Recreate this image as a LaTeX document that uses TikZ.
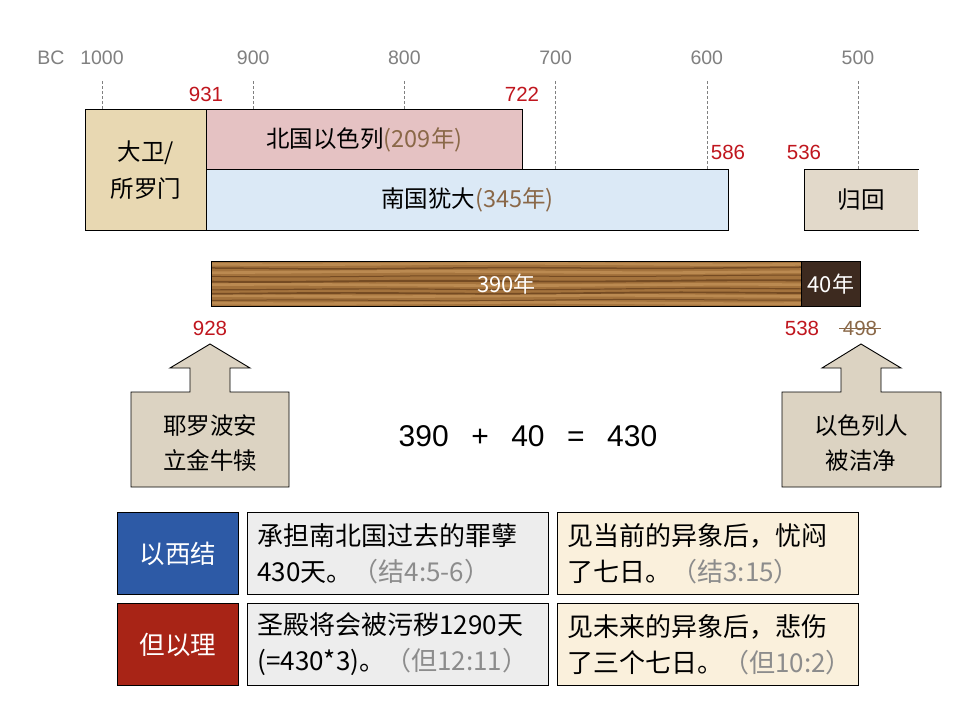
\documentclass[tikz,border=0pt]{standalone}
\usepackage{fontspec}
\setmainfont{Liberation Sans}
\newfontfamily\cjk{Noto Sans CJK SC}
\usepackage{tikz}
\definecolor{axisgray}{HTML}{808080}
\definecolor{yearred}{HTML}{C0161E}
\definecolor{yearbrown}{HTML}{8A6848}
\definecolor{davidtan}{HTML}{E8D8B2}
\definecolor{northpink}{HTML}{E5C2C3}
\definecolor{southblue}{HTML}{DBE9F6}
\definecolor{returnbeige}{HTML}{E2D9CA}
\definecolor{woodbrown}{HTML}{A4733D}
\definecolor{woodlight}{HTML}{C39358}
\definecolor{wooddark}{HTML}{5C3616}
\definecolor{exilebrown}{HTML}{3D2A1F}
\definecolor{linen}{HTML}{DCD3C2}
\definecolor{ezekblue}{HTML}{2D5AA6}
\definecolor{danred}{HTML}{A82416}
\definecolor{notegray}{HTML}{EDEDED}
\definecolor{notecream}{HTML}{FAF0DC}
\definecolor{refgray}{HTML}{8C8C8C}

\begin{document}
\begin{tikzpicture}[x=1pt, y=-1pt, font=\cjk,
        axislabel/.style={font=\rmfamily\fontsize{19.5}{19.5}\selectfont, text=axisgray},
        yearlabel/.style={font=\rmfamily\fontsize{20.5}{20.5}\selectfont, text=yearred},
        tick/.style={axisgray, line width=0.6pt, dash pattern=on 3pt off 2pt},
        bar/.style={draw=black, line width=0.9pt, inner sep=0pt, anchor=north west, align=center, font=\cjk\fontsize{23.5}{37}\selectfont},
        woodbar/.style={draw=black, line width=0.9pt, anchor=north west, minimum height=45, inner sep=0pt, text=white, font=\cjk\fontsize{22}{22}\selectfont},
        callout/.style={draw=black, line width=0.9pt, fill=linen},
        callouttext/.style={align=center, font=\cjk\fontsize{23.5}{35}\selectfont},
        namebox/.style={draw=black, line width=0.9pt, anchor=north west, minimum width=121, minimum height=82, inner sep=0pt, text=white, font=\cjk\fontsize{25.5}{25.5}\selectfont},
        note/.style={draw=black, line width=0.9pt, anchor=north west, text width=281pt, minimum height=82, inner xsep=10pt, inner ysep=0pt, align=left, font=\cjk\fontsize{26}{36}\selectfont}]
    \fill[white] (0,0) rectangle (960,720);
    \useasboundingbox (0,0) rectangle (960,720);

    \node[axislabel] (bc) at (51,58) {BC};
    \foreach \yr/\bot in {1000/109, 900/109, 800/109, 700/169, 600/169, 500/169} {
        \pgfmathsetmacro{\xx}{102+(1000-\yr)*1.512}
        \node[axislabel] (ax\yr) at (\xx,58) {\yr};
        \draw[tick] (\xx,81) -- (\xx,\bot);
    }
    \node[yearlabel] (y931) at (206,94)  {931};
    \node[yearlabel] (y722) at (522,94)  {722};
    \node[yearlabel] (y586) at (728,152) {586};
    \node[yearlabel] (y536) at (804,152) {536};

    \node[bar, fill=northpink, minimum width=316, minimum height=60] (north) at (206,109) {北国以色列{\color{yearbrown}(209年)}};
    \node[bar, fill=southblue, minimum width=522, minimum height=61] (south) at (206,169) {南国犹大{\color{yearbrown}(345年)}};
    \node[bar, fill=davidtan, minimum width=121, minimum height=121] (david) at (85,109) {大卫/\\所罗门};
    \node[bar, draw=none, fill=returnbeige, minimum width=114, minimum height=61] (return) at (804,169) {归回};
    \draw[line width=0.9pt] (return.north east) -- (return.north west) -- (return.south west) -- (return.south east);

    \fill[woodbrown] (211,261) rectangle (801,306);
    \begin{scope}
        \clip (211,261) rectangle (801,306);
        \foreach \yy in {264, 272, 285, 296, 303}
            \draw[woodlight, line width=2.6pt, opacity=.75] plot[domain=211:801, samples=50] (\x, {\yy+0.6*sin(0.8*\x+9*\yy)});
        \foreach \yy/\lw in {268/1.5, 276/1.0, 281/1.9, 289/1.2, 293/1.7, 300/1.0}
            \draw[wooddark, line width=\lw pt, opacity=.65] plot[domain=211:801, samples=50] (\x, {\yy+0.5*sin(1.1*\x+7*\yy)+0.4*sin(0.3*\x)});
    \end{scope}
    \node[woodbar, minimum width=590] (span390) at (211,261) {390年};
    \node[woodbar, fill=exilebrown, minimum width=59] (span40) at (801,261) {40年};

    \node[yearlabel] (y928) at (210,328) {928};
    \node[yearlabel] (y538) at (802,328) {538};
    \node[yearlabel, text=yearbrown] (y498) at (860,328) {498};
    \draw[yearbrown, line width=1pt] (y498.west) -- (y498.east);

    \draw[callout] (131,487) -- (131,392) -- (190,392) -- (190,368) -- (170,368) -- (210,344)
        -- (250,368) -- (230,368) -- (230,392) -- (289,392) -- (289,487) -- cycle;
    \node[callouttext] (jeroboam) at (210,443) {耶罗波安\\立金牛犊};
    \draw[callout] (782,487) -- (782,392) -- (841,392) -- (841,368) -- (822,368) -- (861,344)
        -- (901,368) -- (881,368) -- (881,392) -- (941,392) -- (941,487) -- cycle;
    \node[callouttext] (cleansed) at (861,443) {以色列人\\被洁净};

    \node[font=\rmfamily\fontsize{30}{30}\selectfont] (sum) at (528,436) {390\hspace{.75em}+\hspace{.75em}40\hspace{.75em}=\hspace{.75em}430};

    \node[namebox, fill=ezekblue] (ezekiel) at (117,512) {以西结};
    \node[namebox, fill=danred] (daniel) at (117,603) {但以理};
    \node[note, fill=notegray] (ezeksin) at (247,512) {承担南北国过去的罪孽\\430天。{\color{refgray}（结4:5-6）}};
    \node[note, fill=notegray] (dantemple) at (247,603) {圣殿将会被污秽1290天\\(=430*3)。{\color{refgray}（但12:11）}};
    \node[note, fill=notecream] (ezekvision) at (557,512) {见当前的异象后，忧闷\\了七日。{\color{refgray}（结3:15）}};
    \node[note, fill=notecream] (danvision) at (557,603) {见未来的异象后，悲伤\\了三个七日。{\color{refgray}（但10:2）}};
\end{tikzpicture}
\end{document}
